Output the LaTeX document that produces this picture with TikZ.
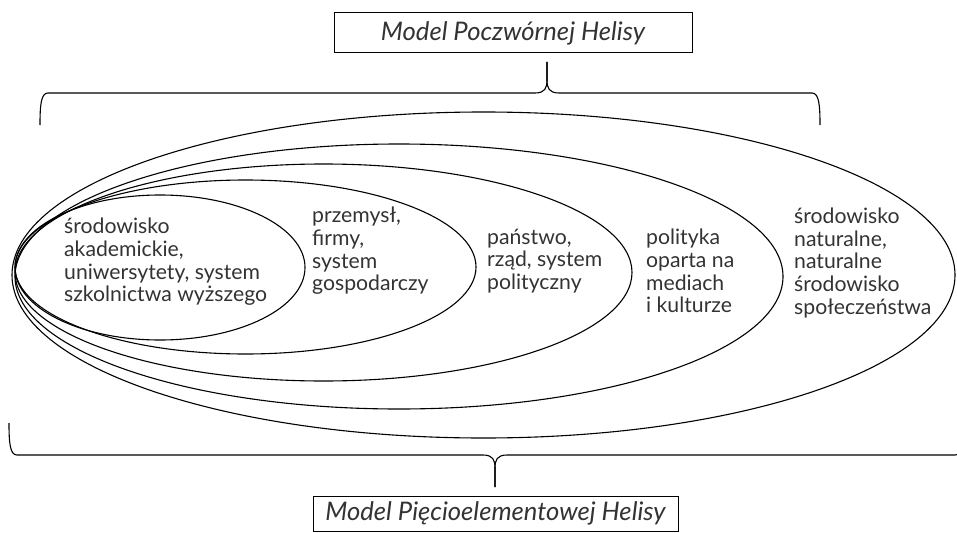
\documentclass[tikz,border=0pt]{standalone}
\usepackage{fontspec}
\setmainfont{Lato}
\usetikzlibrary{positioning}
\definecolor{txtgray}{HTML}{333333}

\begin{document}
\begin{tikzpicture}[x=1pt, y=-1pt,
    ring/.style={line width=1.1pt},
    brace/.style={line width=1.1pt},
    area/.style={font=\fontsize{21.2}{22.6}\selectfont, text=txtgray, align=left, anchor=west, inner sep=0pt},
    modelbox/.style={draw, line width=1pt, text=txtgray, inner sep=0pt, font=\fontsize{25.6}{28}\selectfont\itshape}]

    \useasboundingbox (0,0) rectangle (957,532);
    \clip (0,0) rectangle (957,532);

    % Nested spheres (inner to outer)
    \draw[ring] (160,267.5) ellipse [x radius=145pt, y radius=72.5pt];
    \draw[ring] (245.5,267) ellipse [x radius=230.5pt, y radius=87pt];
    \draw[ring] (323.5,272.5) ellipse [x radius=308.5pt, y radius=108.5pt];
    \draw[ring] (399,276.5) ellipse [x radius=384pt, y radius=132.5pt];
    \draw[ring] (483.5,275) ellipse [x radius=471.5pt, y radius=163pt];

    % Sphere labels
    \node[area] (academia) at (64,262) {środowisko\\akademickie,\\uniwersytety, system\\szkolnictwa wyższego};
    \node[area] (industry) at (312,251) {przemysł,\\firmy,\\system\\gospodarczy};
    \node[area] (state) at (487,261) {państwo,\\rząd, system\\polityczny};
    \node[area] (media) at (646,271) {polityka\\oparta na\\mediach\\i kulturze};
    \node[area] (nature) at (794,263) {środowisko\\naturalne,\\naturalne\\środowisko\\społeczeństwa};

    % Brace tips
    \coordinate (toptip) at (547,62);
    \coordinate (bottip) at (495,487);

    % Upper brace (quadruple helix)
    \draw[brace] (40,125) .. controls (40,105) and (41,93) .. (48,93)
        -- (535,93) .. controls (545,93) and (547,88) .. (547,80) -- (toptip);
    \draw[brace] (toptip) -- (547,80) .. controls (547,88) and (549,93) .. (559,93)
        -- (812,93) .. controls (819,93) and (820,105) .. (820,125);

    % Lower brace (quintuple helix)
    \draw[brace] (9,423) .. controls (9,443) and (10,455) .. (17,455)
        -- (483,455) .. controls (493,455) and (495,460) .. (495,468) -- (bottip);
    \draw[brace] (bottip) -- (495,468) .. controls (495,460) and (497,455) .. (507,455)
        -- (955,455) .. controls (962,455) and (963,443) .. (963,423);

    % Model boxes
    \node[modelbox, minimum width=358pt, minimum height=40pt] (quadruple) at (513,33) {Model Poczwórnej Helisy};
    \node[modelbox, minimum width=365pt, minimum height=35pt] (quintuple) at (495.5,513.5) {Model Pięcioelementowej Helisy};
\end{tikzpicture}
\end{document}
